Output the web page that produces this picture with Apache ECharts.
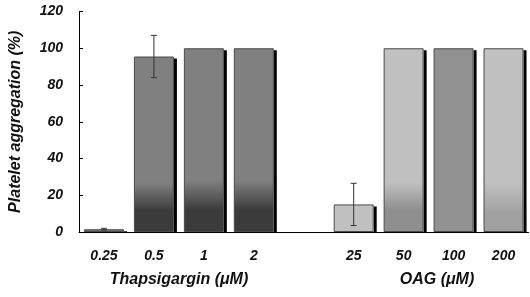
<!DOCTYPE html>
<html>
<head>
    <meta charset="UTF-8">
    <title>Platelet aggregation</title>
    <script src="https://cdn.jsdelivr.net/npm/echarts/dist/echarts.min.js"></script>
    <style>
        html, body { margin: 0; padding: 0; background: #fff; }
        #chart { width: 530px; height: 297px; }
    </style>
</head>
<body>
    <div id="chart"></div>

    <script>
        // data
        const categories = ['0.25', '0.5', '1', '2', '', '25', '50', '100', '200'];
        const values = [1.5, 95.5, 100, 100, null, 15, 100, 100, 100];
        const errors = [0.5, 11.5, 0, 0, null, 11.5, 0, 0, 0];
        const yTicks = [0, 20, 40, 60, 80, 100, 120];

        const FONT = '"Liberation Sans", Arial, sans-serif';
        const BAR_W = 40;

        function grad(top, bottom, from, to) {
            return new echarts.graphic.LinearGradient(0, 0, 0, 1, [
                { offset: 0, color: top },
                { offset: from, color: top },
                { offset: to, color: bottom },
                { offset: 1, color: bottom }
            ]);
        }

        const fills = [
            '#7a7a7a',
            grad('#808080', '#3b3b3b', 0.72, 0.88),
            grad('#808080', '#3b3b3b', 0.72, 0.88),
            grad('#808080', '#3b3b3b', 0.72, 0.88),
            null,
            '#c0c0c0',
            grad('#c0c0c0', '#8f8f8f', 0.73, 0.88),
            '#919191',
            grad('#c0c0c0', '#a0a0a0', 0.73, 0.9)
        ];

        const chart = echarts.init(document.getElementById('chart'));

        const option = {
            animation: false,
            grid: { left: 78.5, right: 1.5, top: 11.5, bottom: 65 },
            xAxis: {
                type: 'category',
                data: categories,
                axisLine: { lineStyle: { color: '#000', width: 1 } },
                axisTick: { show: false },
                axisLabel: {
                    margin: 17,
                    fontFamily: FONT, fontSize: 14, fontWeight: 'bold', fontStyle: 'italic',
                    color: '#111'
                }
            },
            yAxis: {
                type: 'value',
                min: 0, max: yTicks[yTicks.length - 1], interval: 20,
                name: 'Platelet aggregation (%)',
                nameLocation: 'middle',
                nameGap: 55,
                nameTextStyle: {
                    fontFamily: FONT, fontSize: 16, fontWeight: 'bold', fontStyle: 'italic', color: '#111'
                },
                splitLine: { show: false },
                axisLine: { show: true, lineStyle: { color: '#000', width: 1 } },
                axisTick: { show: true, inside: true, length: 4, lineStyle: { color: '#000' } },
                axisLabel: {
                    margin: 16,
                    fontFamily: FONT, fontSize: 14, fontWeight: 'bold', fontStyle: 'italic',
                    color: '#111'
                }
            },
            series: [
                {
                    // drop shadow on the right of each bar
                    type: 'custom',
                    data: values.map((v, i) => [i, v]),
                    z: 1,
                    silent: true,
                    renderItem: function (params, api) {
                        const v = api.value(1);
                        if (v == null || isNaN(v)) return null;
                        const top = api.coord([api.value(0), v]);
                        const base = api.coord([api.value(0), 0]);
                        return {
                            type: 'rect',
                            shape: {
                                x: top[0] + BAR_W / 2,
                                y: top[1] + 2,
                                width: 3,
                                height: base[1] - top[1] - 2
                            },
                            style: { fill: '#000' }
                        };
                    }
                },
                {
                    type: 'bar',
                    barWidth: BAR_W,
                    z: 2,
                    data: values.map((v, i) => ({
                        value: v,
                        itemStyle: { color: fills[i] }
                    })),
                    itemStyle: {
                        borderColor: '#4a4a4a',
                        borderWidth: 1
                    }
                },
                {
                    type: 'custom',
                    data: values.map((v, i) => [i, v, errors[i]]),
                    z: 5,
                    renderItem: function (params, api) {
                        const v = api.value(1);
                        const e = api.value(2);
                        if (v == null || isNaN(v) || !e) return null;
                        const hi = api.coord([api.value(0), v + e]);
                        const lo = api.coord([api.value(0), v - e]);
                        const cap = 3;
                        const style = { stroke: '#333', lineWidth: 1 };
                        return {
                            type: 'group',
                            children: [
                                { type: 'line', shape: { x1: hi[0], y1: hi[1], x2: lo[0], y2: lo[1] }, style },
                                { type: 'line', shape: { x1: hi[0] - cap, y1: hi[1], x2: hi[0] + cap, y2: hi[1] }, style },
                                { type: 'line', shape: { x1: lo[0] - cap, y1: lo[1], x2: lo[0] + cap, y2: lo[1] }, style }
                            ]
                        };
                    }
                }
            ],
            graphic: [
                {
                    type: 'text', x: 179, y: 272,
                    style: {
                        text: 'Thapsigargin (\u03bcM)', align: 'center', verticalAlign: 'top',
                        font: 'italic bold 16px ' + FONT, fill: '#111'
                    }
                },
                {
                    type: 'text', x: 437, y: 272,
                    style: {
                        text: 'OAG (\u03bcM)', align: 'center', verticalAlign: 'top',
                        font: 'italic bold 16px ' + FONT, fill: '#111'
                    }
                }
            ]
        };

        chart.setOption(option);
    </script>
</body>
</html>
